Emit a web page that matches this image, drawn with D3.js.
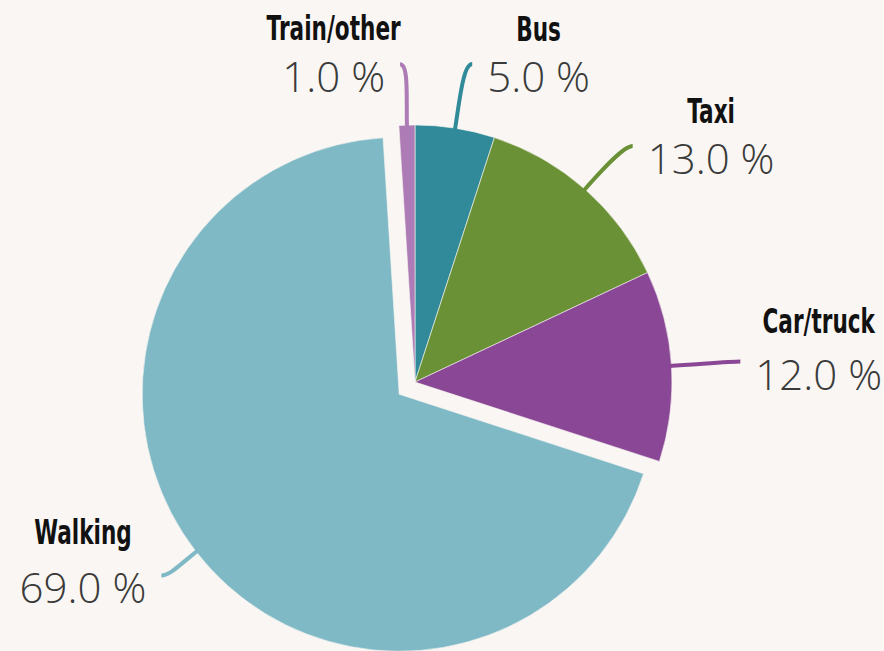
<!DOCTYPE html>
<html lang="en">
<head>
    <meta charset="UTF-8">
    <title>Travel mode</title>
    <script src="https://cdnjs.cloudflare.com/ajax/libs/d3/7.8.5/d3.min.js"></script>
    <style>
        html, body { margin: 0; padding: 0; background: #f9f6f3; }
        svg { display: block; }
        .name { font-family: "DejaVu Sans", sans-serif; font-weight: 700; font-size: 33px; fill: #111; }
        .pct { font-family: "Open Sans", sans-serif; font-weight: 300; font-size: 42px; fill: #3a3a3a; }
    </style>
</head>
<body>
    <svg width="884" height="651"></svg>
    <script>
        "use strict";

        // data
        const categories = ["Bus", "Taxi", "Car/truck", "Walking", "Train/other"];
        const shares = [5, 13, 12, 69, 1];
        const colors = ["#318a99", "#6b9137", "#8a4795", "#80b9c6", "#ad7bb5"];
        const exploded = [false, false, false, true, false];

        // label layout: leader end past the rim, angular nudge (deg), gap name->percent line
        const labelExt = [66, 64, 69, 42, 61];
        const labelTurn = [1.2, 1.3, 0, 0.5, -0.9];
        const labelGap = [51, 51, 57, 59, 52];

        const svg = d3.select("svg");
        const cx = 415, cy = 382, r = 257, explode = 20;

        const slices = d3.pie().sort(null).value(d => d.value)(
            categories.map((c, i) => ({ name: c, value: shares[i], color: colors[i], out: exploded[i], i }))
        );

        const arc = d3.arc().innerRadius(0).outerRadius(r);
        const g = svg.append("g").attr("transform", `translate(${cx},${cy})`);

        const mid = d => (d.startAngle + d.endAngle) / 2;
        const shift = d => d.data.out ? [Math.sin(mid(d)) * explode, -Math.cos(mid(d)) * explode] : [0, 0];

        g.selectAll("path.slice")
            .data(slices)
            .enter()
            .append("path")
            .attr("class", "slice")
            .attr("d", arc)
            .attr("fill", d => d.data.color)
            .attr("stroke", "#f9f6f3")
            .attr("stroke-width", 0.6)
            .attr("transform", d => `translate(${shift(d)})`);

        // leaders + labels
        slices.forEach(d => {
            const i = d.data.i;
            const a = mid(d);
            const [sx, sy] = shift(d);
            const p0 = [sx + Math.sin(a) * (r - 2), sy - Math.cos(a) * (r - 2)];
            const ea = a + labelTurn[i] * Math.PI / 180;
            const er = r + labelExt[i];
            const p3 = [sx + Math.sin(ea) * er, sy - Math.cos(ea) * er];
            const side = Math.sin(ea) >= 0 ? 1 : -1;
            const len = Math.hypot(p3[0] - p0[0], p3[1] - p0[1]);
            const p1 = [p0[0] + Math.sin(a) * len * 0.45, p0[1] - Math.cos(a) * len * 0.45];
            const p2 = [p3[0] - side * 9, p3[1]];

            g.append("path")
                .attr("d", `M${p0}C${p1} ${p2} ${p3}`)
                .attr("fill", "none")
                .attr("stroke", d.data.color)
                .attr("stroke-width", 4);

            const tx = p3[0] + side * 15;
            const py = p3[1] + 28;
            const pct = g.append("text")
                .attr("class", "pct")
                .attr("x", tx)
                .attr("y", py)
                .attr("text-anchor", side > 0 ? "start" : "end")
                .text(d3.format(".1f")(d.data.value) + " %");
            const bb = pct.node().getBBox();
            g.append("text")
                .attr("class", "name")
                .attr("transform", `translate(${bb.x + bb.width / 2},${py - labelGap[i]}) scale(0.655,1)`)
                .attr("text-anchor", "middle")
                .text(d.data.name);
        });
    </script>
</body>
</html>
